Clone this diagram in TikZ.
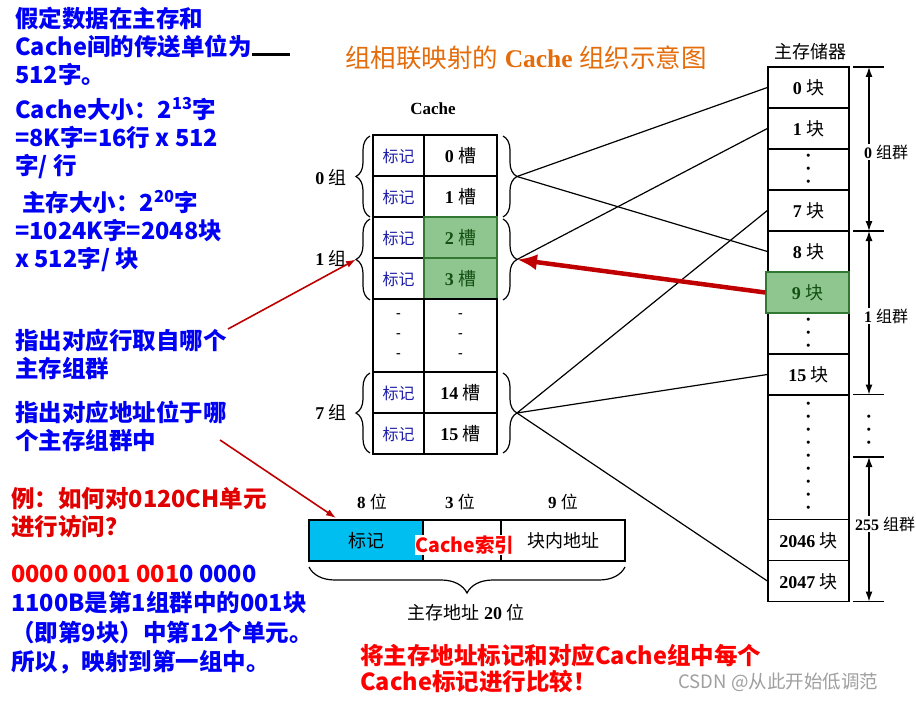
\documentclass[tikz,border=0pt]{standalone}
\usepackage{fontspec}
\setmainfont{Liberation Serif}
\newfontfamily\cjk{Noto Sans CJK SC}
\usetikzlibrary{arrows.meta,decorations.pathreplacing}

\definecolor{titleorange}{RGB}{228,108,10}
\definecolor{tagblue}{RGB}{30,30,170}
\definecolor{textblue}{RGB}{0,0,245}
\definecolor{notered}{RGB}{225,0,0}
\definecolor{darkred}{RGB}{192,0,0}
\definecolor{cellgreen}{RGB}{143,198,143}
\definecolor{hitborder}{RGB}{50,120,50}
\definecolor{greentext}{RGB}{20,80,20}
\definecolor{tagcyan}{RGB}{0,190,240}

\newcommand{\zh}[1]{{\cjk #1}}

\begin{document}
\begin{tikzpicture}[x=1pt, y=-1pt,
		cell/.style={draw, line width=1.3pt, inner sep=0pt},
		lowtext/.style={text height=1.45em, text depth=0pt},
		dotstack/.style={align=center, inner sep=0pt, font=\bfseries\fontsize{11.5}{13}\selectfont},
		tagcell/.style={cell, lowtext, minimum width=51pt, minimum height=41pt, text=tagblue, font=\fontsize{16}{16}\selectfont},
		slotcell/.style={cell, lowtext, minimum width=73pt, minimum height=41pt, font=\fontsize{18}{18}\selectfont},
		gapcell/.style={cell, minimum height=73pt, align=center, font=\bfseries\fontsize{14}{20}\selectfont},
		memcell/.style={cell, lowtext, minimum width=81pt, minimum height=41pt, font=\fontsize{18}{18}\selectfont},
		memgap/.style={cell, dotstack, minimum width=81pt},
		hitcell/.style={fill=cellgreen, draw=hitborder, text=greentext},
		addrcell/.style={cell, lowtext, minimum height=41pt, font=\fontsize{18}{18}\selectfont},
		grpbrace/.style={decorate, decoration={brace, amplitude=14pt}, line width=1.2pt},
		addrbrace/.style={decorate, decoration={brace, amplitude=26pt}, line width=1.2pt},
		grpname/.style={font=\fontsize{18}{18}\selectfont},
		grpmark/.style={fill=white, inner sep=1pt, font=\fontsize{16}{16}\selectfont},
		tickline/.style={line width=1.2pt},
		dimarrow/.style={line width=1.2pt, {Latex[length=10pt,width=7pt]}-{Latex[length=10pt,width=7pt]}},
		link/.style={line width=1.2pt},
		hitarrow/.style={draw=darkred, line width=4.5pt, -{Latex[length=20pt,width=16pt]}},
		notearrow/.style={draw=darkred, line width=1.6pt, -{Latex[length=10pt,width=7pt]}},
		note/.style={anchor=west, align=left, inner sep=0pt, text=textblue, font=\cjk\bfseries\fontsize{23.5}{28}\selectfont}]

				\path [fill=white] (0,0) rectangle (916,701);
				\useasboundingbox (0,0) rectangle (916,701);

				\node [text=titleorange, font=\fontsize{25.5}{25.5}\selectfont] (title) at (526,58) {\zh{组相联映射的} \textbf{Cache} \zh{组织示意图}};

				%------ cache
				\node [font=\bfseries\fontsize{17}{17}\selectfont] (cachehead) at (433,109) {Cache};

				\node [tagcell] (t0) at (398.5,155.5) {\zh{标记}};
				\node [slotcell] (s0) at (460.5,155.5) {\textbf{0} \zh{槽}};
				\node [tagcell] (t1) at (398.5,196.5) {\zh{标记}};
				\node [slotcell] (s1) at (460.5,196.5) {\textbf{1} \zh{槽}};
				\node [tagcell] (t2) at (398.5,237.5) {\zh{标记}};
				\node [tagcell] (t3) at (398.5,278.5) {\zh{标记}};
				\node [slotcell, hitcell] (s2) at (460.5,237.5) {\textbf{2} \zh{槽}};
				\node [slotcell, hitcell] (s3) at (460.5,278.5) {\textbf{3} \zh{槽}};

				\node [gapcell, minimum width=51pt] (tgap) at (398.5,335.5) {-\\-\\-};
				\node [gapcell, minimum width=73pt] (sgap) at (460.5,335.5) {-\\-\\-};

				\node [tagcell] (t14) at (398.5,392.5) {\zh{标记}};
				\node [slotcell] (s14) at (460.5,392.5) {\textbf{14} \zh{槽}};
				\node [tagcell] (t15) at (398.5,433.5) {\zh{标记}};
				\node [slotcell] (s15) at (460.5,433.5) {\textbf{15} \zh{槽}};

				\draw [grpbrace] (370,217) -- (370,136);
				\draw [grpbrace] (370,300) -- (370,219);
				\draw [grpbrace] (370,453) -- (370,373);
				\draw [grpbrace] (503,136) -- (503,217);
				\draw [grpbrace] (503,219) -- (503,300);
				\draw [grpbrace] (503,373) -- (503,453);

				\node [grpname] (n0) at (331,177) {\textbf{0} \zh{组}};
				\node [grpname] (n1) at (331,258) {\textbf{1} \zh{组}};
				\node [grpname] (n7) at (331,412) {\textbf{7} \zh{组}};

				\coordinate (g0r) at (517,176.5);
				\coordinate (g1r) at (517,259.5);
				\coordinate (g7r) at (517,413);
				\coordinate (g1l) at (356,259.5);

				%------ main memory
				\node [font=\fontsize{18}{18}\selectfont] (memhead) at (810,52) {\zh{主存储器}};

				\node [memcell] (m0) at (808.5,87.5) {\textbf{0} \zh{块}};
				\node [memcell] (m1) at (808.5,128.5) {\textbf{1} \zh{块}};
				\node [memgap, minimum height=41pt] (mg1) at (808.5,169.5) {\textbullet\\\textbullet\\\textbullet};
				\node [memcell] (m7) at (808.5,210.5) {\textbf{7} \zh{块}};
				\node [memcell] (m8) at (808.5,251.5) {\textbf{8} \zh{块}};
				\node [memgap, minimum height=41pt] (mg2) at (808.5,333.5) {\textbullet\\\textbullet\\\textbullet};
				\node [memcell, hitcell, minimum width=83pt] (m9) at (807.5,292.5) {\textbf{9} \zh{块}};
				\node [memcell] (m15) at (808.5,374.5) {\textbf{15} \zh{块}};
				\node [memgap, minimum height=125pt] (mg3) at (808.5,457) {\textbullet\\\textbullet\\\textbullet\\\textbullet\\\textbullet\\\textbullet\\\textbullet\\\textbullet\\\textbullet};
				\node [memcell] (m2046) at (808.5,540) {\textbf{2046} \zh{块}};
				\node [memcell] (m2047) at (808.5,581) {\textbf{2047} \zh{块}};

				\coordinate (d0) at (869,67);
				\coordinate (d1) at (869,231);
				\coordinate (d2) at (869,394.5);
				\coordinate (d3) at (869,457);
				\coordinate (d4) at (869,601.5);

				\draw [tickline] (853,67) -- (884,67);
				\draw [tickline] (853,231) -- (884,231);
				\draw [tickline] (853,394.5) -- (884,394.5);
				\draw [tickline] (853,457) -- (884,457);
				\draw [tickline] (853,601.5) -- (884,601.5);

				\draw [dimarrow] (d0) -- (d1);
				\draw [dimarrow] (d1) -- (d2);
				\draw [dimarrow] (d3) -- (d4);
				\node [dotstack] (ddots) at (869,431) {\textbullet\\\textbullet\\\textbullet};

				\node [grpmark] (c0) at (886,152) {\textbf{0} \zh{组群}};
				\node [grpmark] (c1) at (886,316) {\textbf{1} \zh{组群}};
				\node [grpmark] (c255) at (885,524) {\textbf{255} \zh{组群}};

				%------ mapping
				\draw [link] (g0r) -- (m0.west);
				\draw [link] (g0r) -- (m8.west);
				\draw [link] (g1r) -- (m1.west);
				\draw [link] (g7r) -- (m7.west);
				\draw [link] (g7r) -- (m15.west);
				\draw [link] (g7r) -- (m2047.west);
				\draw [hitarrow] (m9.west) -- (g1r);

				%------ address
				\node [font=\fontsize{17}{17}\selectfont] (bit8) at (372,502) {\textbf{8} \zh{位}};
				\node [font=\fontsize{17}{17}\selectfont] (bit3) at (460,502) {\textbf{3} \zh{位}};
				\node [font=\fontsize{17}{17}\selectfont] (bit9) at (563,502) {\textbf{9} \zh{位}};

				\node [addrcell, fill=tagcyan, minimum width=114pt] (a1) at (366,540.5) {\zh{标记}};
				\node [addrcell, minimum width=78pt] (a2) at (462,540.5) {};
				\node [addrcell, minimum width=124pt] (a3) at (563,540.5) {\zh{块内地址}};
				\node [fill=white, inner sep=1pt, text=red, font=\cjk\bfseries\fontsize{19.5}{19.5}\selectfont] (aidx) at (465,545) {Cache索引};

				\draw [addrbrace] (625,567) -- (309,567);
				\node [font=\fontsize{18}{18}\selectfont] (addrsum) at (466,613) {\zh{主存地址} \textbf{20} \zh{位}};

				%------ notes
				\node [note] (p1) at (15,46.5) {假定数据在主存和\\Cache间的传送单位为\textcolor{black}{\rule{38pt}{2.5pt}}\\512字。};
				\node [note] (p2) at (15,138) {Cache大小：2\textsuperscript{13}字\\=8K字=16行 x 512\\字/ 行};
				\node [note] (p3) at (15,231) {\hspace*{7pt}主存大小：2\textsuperscript{20}字\\=1024K字=2048块\\x 512字/ 块};
				\node [note] (p4) at (15,354) {指出对应行取自哪个\\主存组群};
				\node [note] (p5) at (15,426) {指出对应地址位于哪\\个主存组群中};
				\node [note, text=notered] (p6) at (11,512.5) {例：如何对0120CH单元\\进行访问？};
				\node [note, font=\cjk\bfseries\fontsize{23.5}{29.3}\selectfont] (p7) at (11,619.5) {\textcolor{red}{0000 0001 001}0 0000\\1100B是第1组群中的001块\\（即第9块）中第12个单元。\\所以，映射到第一组中。};
				\node [note, text=red, font=\cjk\bfseries\fontsize{23.5}{26}\selectfont] (p8) at (360,668) {将主存地址标记和对应Cache组中每个\\Cache标记进行比较！};

				\coordinate (p4end) at (228,329);
				\coordinate (p5end) at (220,440);
				\coordinate (tagpt) at (336,518);
				\draw [notearrow] (p4end) -- (g1l);
				\draw [notearrow] (p5end) -- (tagpt);

				\node [anchor=west, text=gray!75, font=\cjk\fontsize{18.5}{18.5}\selectfont] (mark) at (675,682) {CSDN @从此开始低调范};
		\end{tikzpicture}
\end{document}
